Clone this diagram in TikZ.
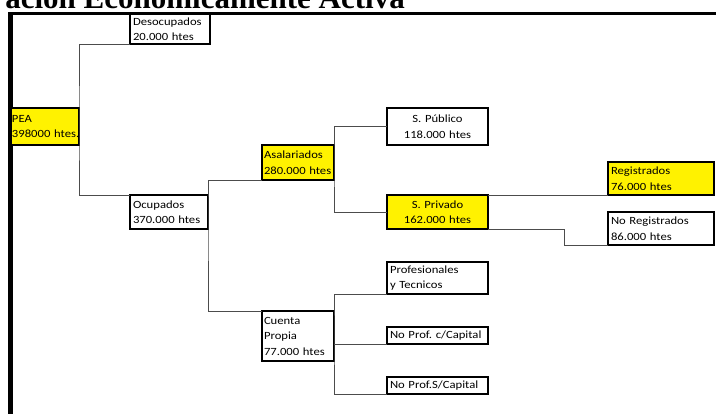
\documentclass[tikz,border=0pt]{standalone}
\usepackage{fontspec}
\newfontfamily\cajafont[FakeStretch=1.15]{Carlito}
\newfontfamily\titulofont{Liberation Serif}
\tikzset{
  caja/.style={draw, line width=1.4pt, anchor=north west, inner xsep=3pt, inner ysep=0pt, outer sep=0pt,
    align=left, font=\cajafont\frenchspacing\fontsize{11}{15.5}\selectfont},
  amarilla/.style={fill=yellow},
  linea/.style={draw=black!70, line width=0.8pt}
}
\begin{document}
\begin{tikzpicture}[x=1pt, y=-1pt]
    \useasboundingbox (0,0) rectangle (716,414);
    \clip (0,0) rectangle (716,414);

    % Titulo y marco
    \node[anchor=base east, inner sep=0pt, font=\titulofont\bfseries\fontsize{31}{31}\selectfont] (titulo) at (405,9) {ación Económicamente Activa};
    \draw[line width=3pt] (8,14) -- (716,14);
    \draw[line width=5pt] (10.5,12.5) -- (10.5,414);

    % Cajas
    \node[caja, amarilla, inner xsep=1pt, text width=66pt, minimum height=37pt] (pea) at (11,108) {PEA\\\mbox{398000 htes.}};
    \node[caja, text width=74pt, minimum height=30pt] (desoc) at (130,14) {Desocupados\\20.000 htes};
    \node[caja, text width=72pt, minimum height=34pt] (ocup) at (130,195) {Ocupados\\370.000 htes};
    \node[caja, amarilla, inner xsep=2pt, text width=68pt, minimum height=35pt] (asal) at (262,145) {Asalariados\\280.000 htes};
    \node[caja, inner xsep=2pt, text width=68pt, minimum height=50pt] (cuenta) at (262,311) {Cuenta\\Propia\\77.000 htes};
    \node[caja, align=center, text width=95pt, minimum height=37pt] (pub) at (387,108) {S. Público\\118.000 htes};
    \node[caja, amarilla, align=center, text width=95pt, minimum height=34pt] (priv) at (387,195) {S. Privado\\162.000 htes};
    \node[caja, amarilla, text width=100pt, minimum height=33pt] (reg) at (608,162) {Registrados\\76.000 htes};
    \node[caja, text width=100pt, minimum height=33pt] (noreg) at (608,212) {No Registrados\\86.000 htes};
    \node[caja, text width=95pt, minimum height=32pt] (prof) at (387,262) {Profesionales\\y Tecnicos};
    \node[caja, text width=95pt, minimum height=17pt] (npc) at (387,327) {No Prof. c/Capital};
    \node[caja, text width=95pt, minimum height=17pt] (nps) at (387,377) {No Prof.S/Capital};

    % Conectores
    \draw[linea] (desoc.south west) -| (pea.east) |- (ocup.north west);
    \draw[linea] (asal.south west) -| (ocup.east) |- (cuenta.north west);
    \draw[linea] (pub.west) -| (asal.east) |- (priv.west);
    \draw[linea] (priv.north east) -- (reg.south west);
    \draw[linea] (priv.south east) -| ([xshift=-44pt]noreg.south west) -- (noreg.south west);
    \draw[linea] (prof.south west) -| (cuenta.east) |- (nps.south west);
    \draw[linea] (npc.south west -| cuenta.east) -- (npc.south west);
\end{tikzpicture}
\end{document}
